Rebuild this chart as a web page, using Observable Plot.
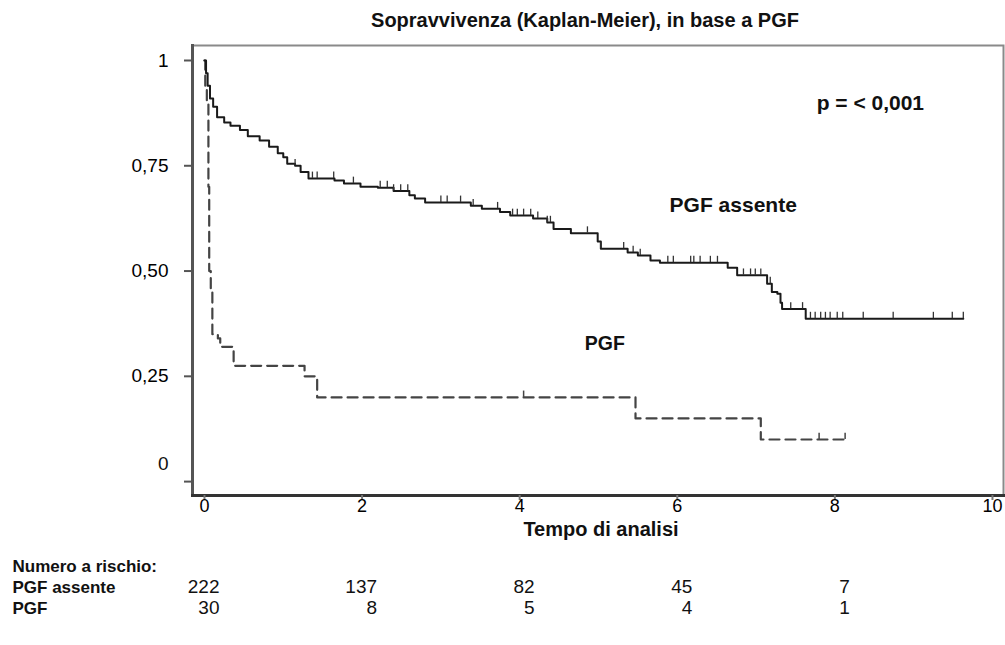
<!DOCTYPE html>
<html><head><meta charset="utf-8">
<script src="https://cdn.jsdelivr.net/npm/d3@7"></script>
<script src="https://cdn.jsdelivr.net/npm/@observablehq/plot@0.6"></script>
<style>
body{margin:0;background:#fff;}
#chart svg{font-family:"Liberation Sans", Arial, Helvetica, sans-serif;}
</style>
</head><body><div id="chart"></div>
<script>
const titleText = "Sopravvivenza (Kaplan-Meier), in base a PGF";
const xLabel = "Tempo di analisi";
const yTicks = [0, 0.25, 0.5, 0.75, 1];
const xTicks = [0, 2, 4, 6, 8, 10];

// PGF assente (solid): step times and survival after each step
const absentTime = [0, 0.02, 0.04, 0.07, 0.11, 0.16, 0.25, 0.33, 0.45, 0.55, 0.70, 0.82, 0.93, 1.00, 1.05, 1.15, 1.22, 1.32, 1.65, 1.77, 1.98, 2.20, 2.40, 2.60, 2.67, 2.80, 3.38, 3.52, 3.75, 3.88, 4.17, 4.35, 4.43, 4.65, 4.99, 5.03, 5.37, 5.50, 5.66, 5.78, 6.64, 6.76, 7.14, 7.20, 7.27, 7.31, 7.33, 7.63];
const absentSurv = [1, 0.97, 0.94, 0.91, 0.89, 0.865, 0.853, 0.845, 0.835, 0.82, 0.81, 0.795, 0.78, 0.77, 0.755, 0.75, 0.735, 0.72, 0.715, 0.708, 0.70, 0.698, 0.69, 0.68, 0.672, 0.663, 0.655, 0.648, 0.64, 0.632, 0.625, 0.615, 0.60, 0.59, 0.57, 0.553, 0.544, 0.537, 0.525, 0.52, 0.508, 0.49, 0.47, 0.45, 0.446, 0.425, 0.41, 0.387];
const absentEnd = 9.63;
const absentCensor = [1.15, 1.37, 1.43, 1.64, 1.89, 2.23, 2.32, 2.40, 2.49, 2.58, 3.0, 3.08, 3.25, 3.41, 3.72, 3.91, 3.97, 4.05, 4.14, 4.23, 4.35, 4.39, 4.86, 5.03, 5.32, 5.44, 5.53, 5.88, 5.95, 6.17, 6.21, 6.29, 6.42, 6.51, 6.84, 6.93, 6.99, 7.06, 7.18, 7.44, 7.59, 7.69, 7.75, 7.82, 7.88, 7.94, 8.03, 8.10, 8.36, 8.74, 9.25, 9.49, 9.63];

// PGF (dashed)
const pgfTime = [0, 0.01, 0.03, 0.05, 0.06, 0.08, 0.10, 0.17, 0.20, 0.37, 1.27, 1.43, 5.47, 7.06];
const pgfSurv = [1, 0.93, 0.90, 0.70, 0.50, 0.45, 0.35, 0.34, 0.32, 0.275, 0.25, 0.20, 0.15, 0.10];
const pgfEnd = 8.13;
const pgfCensor = [4.05, 7.80, 8.13];

// numbers at risk
const riskTimes = [0, 2, 4, 6, 8];
const riskAbsent = [222, 137, 82, 45, 7];
const riskPGF = [30, 8, 5, 4, 1];

const annotations = [
  {t: 8.45, s: 0.898, label: "p = < 0,001", size: 21},
  {t: 6.71, s: 0.656, label: "PGF assente", size: 21},
  {t: 5.08, s: 0.328, label: "PGF", size: 19.5}
];

function steps(times, surv, end) {
  const pts = times.map((t, i) => ({t, s: surv[i]}));
  pts.push({t: end, s: surv[surv.length - 1]});
  return pts;
}
function survAt(times, surv, t) {
  let s = surv[0];
  for (let i = 0; i < times.length; i++) if (times[i] <= t) s = surv[i];
  return s;
}
const absentLine = steps(absentTime, absentSurv, absentEnd);
const pgfLine = steps(pgfTime, pgfSurv, pgfEnd);
const absentTicks = absentCensor.map(t => ({t, s: survAt(absentTime, absentSurv, t)}));
const pgfTicks = pgfCensor.map(t => ({t, s: survAt(pgfTime, pgfSurv, t)}));

const fmtY = d => d === 0 ? "0" : d === 1 ? "1" : d.toFixed(2).replace(".", ",");
const riskRows = ["PGF assente", "PGF"];

const chart = Plot.plot({
  width: 1005,
  height: 645,
  marginTop: 45,
  marginBottom: 150,
  marginLeft: 192,
  marginRight: 2,
  x: {domain: [-0.152, 10.14]},
  y: {domain: [-0.033, 1.0356]},
  marks: [
    Plot.frame({stroke: "#8a8a8a", strokeWidth: 2}),
    Plot.frame({anchor: "left", stroke: "#555", strokeWidth: 3}),
    Plot.frame({anchor: "bottom", stroke: "#333", strokeWidth: 3}),
    Plot.axisY({ticks: yTicks, tickFormat: d => d === 0 ? "" : fmtY(d), tickSize: 8, tickPadding: 16, label: null, fontSize: 19, stroke: "#555", strokeWidth: 2}),
    Plot.text([0], {y: d => d, text: fmtY, frameAnchor: "left", dx: -24, dy: -18, textAnchor: "end", fontSize: 19, fill: "#111"}),
    Plot.axisX({ticks: xTicks, tickSize: 5, tickPadding: -1, label: null, fontSize: 18, stroke: "#777", strokeWidth: 2}),
    Plot.line(pgfLine, {x: "t", y: "s", curve: "step-after", stroke: "#444", strokeWidth: 2.2, strokeDasharray: "10,6"}),
    Plot.ruleX(pgfTicks, {x: "t", y1: "s", y2: d => d.s + 0.015, stroke: "#444", strokeWidth: 1.5}),
    Plot.line(absentLine, {x: "t", y: "s", curve: "step-after", stroke: "#1a1a1a", strokeWidth: 2}),
    Plot.ruleX(absentTicks, {x: "t", y1: "s", y2: d => d.s + 0.015, stroke: "#333", strokeWidth: 1.3}),
    Plot.text(annotations, {x: "t", y: "s", text: "label", fontWeight: "bold", fontSize: d => d.size, fill: "#111"}),
    Plot.text([titleText], {frameAnchor: "top", dy: -33, dx: -13, fontWeight: "bold", fontSize: 20, fill: "#111"}),
    Plot.text([xLabel], {frameAnchor: "bottom", dy: 40, dx: 3, fontWeight: "bold", fontSize: 20, fill: "#111"}),
    Plot.text(["Numero a rischio:"], {frameAnchor: "bottom-left", dx: -180, dy: 76, textAnchor: "start", fontWeight: "bold", fontSize: 17, fill: "#111"}),
    Plot.text([riskRows[0]], {frameAnchor: "bottom-left", dx: -180, dy: 97, textAnchor: "start", fontWeight: "bold", fontSize: 17, fill: "#111"}),
    Plot.text([riskRows[1]], {frameAnchor: "bottom-left", dx: -180, dy: 118, textAnchor: "start", fontWeight: "bold", fontSize: 17, fill: "#111"}),
    Plot.text(riskTimes, {x: d => d, text: (d, i) => String(riskAbsent[i]), frameAnchor: "bottom", dy: 97, dx: 15, textAnchor: "end", fontSize: 19, fill: "#111"}),
    Plot.text(riskTimes, {x: d => d, text: (d, i) => String(riskPGF[i]), frameAnchor: "bottom", dy: 118, dx: 15, textAnchor: "end", fontSize: 19, fill: "#111"})
  ]
});
document.getElementById("chart").appendChild(chart);
</script>
</body></html>
